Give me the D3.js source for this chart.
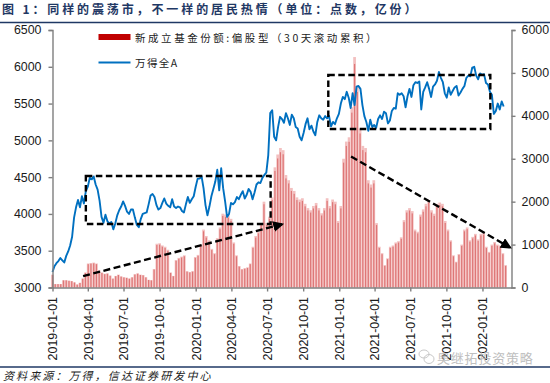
<!DOCTYPE html>
<html>
<head>
<meta charset="utf-8">
<script src="https://cdn.jsdelivr.net/npm/d3@7"></script>
<style>
    body { margin: 0; background: #fff; }
    svg { display: block; }
    .cjk { font-family: "Noto Sans CJK SC", sans-serif; }
    .tick text { font-family: "Liberation Sans", sans-serif; font-size: 12.4px; fill: #1a1a1a; }
    .axis path, .axis line { stroke: #7f7f7f; stroke-width: 1.4; }
</style>
</head>
<body>
<svg id="chart" width="550" height="383"></svg>
<script>
const titleText = "图 1：同样的震荡市，不一样的居民热情（单位：点数，亿份）";
const sourceText = "资料来源：万得，信达证券研发中心";
const barName = "新成立基金份额:偏股型（30天滚动累积）";
const lineName = "万得全A";
const markText = "奥继拓投资策略";

const leftTicks = [3000, 3500, 4000, 4500, 5000, 5500, 6000, 6500];
const rightTicks = [0, 1000, 2000, 3000, 4000, 5000, 6000];
const dateTicks = ["2019-01-01", "2019-04-01", "2019-07-01", "2019-10-01", "2020-01-01", "2020-04-01",
    "2020-07-01", "2020-10-01", "2021-01-01", "2021-04-01", "2021-07-01", "2021-10-01", "2022-01-01"];

// fund shares, one reading per week from 2019-01-01
const barStep = 7;
const barValues = [300, 80, 80, 80, 170, 170, 160, 150, 120, 70, 110, 210, 350, 560, 570, 580, 560, 400, 350, 320,
    330, 280, 210, 270, 300, 260, 240, 230, 210, 240, 310, 330, 300, 290, 240, 180, 170, 430, 1020, 1030,
    980, 950, 880, 350, 270, 640, 690, 720, 750, 380, 360, 380, 710, 760, 1000, 1350, 1200, 1100, 900, 800,
    1150, 1400, 1720, 1700, 1680, 1600, 1050, 750, 500, 430, 450, 470, 560, 950, 1200, 1300, 1500, 2000, 1500, 1650,
    2100, 2800, 3100, 3250, 3200, 2620, 2500, 2320, 2250, 2100, 2050, 2080, 1950, 1850, 1800, 1900, 1970, 1850, 1730, 1850,
    2080, 1900, 2050, 2000, 1550, 1900, 3000, 3400, 3500, 4200, 5370, 4700, 3700, 3300, 3250, 2500, 2400, 2500, 1500, 950,
    800, 520, 680, 950, 980, 1050, 1080, 1170, 1570, 1800, 1850, 1780, 1350, 1300, 1700, 1820, 1950, 2040, 1800, 1720,
    1950, 1980, 1950, 1550, 1350, 1100, 750, 600, 780, 1000, 1350, 1400, 1100, 1180, 1250, 1120, 1250, 1270, 950, 830,
    1000, 1060, 1000, 980, 800, 520];

// Wind All A index, one reading every 5 days from 2019-01-01
const lineStep = 5;
const lineValues = [3210, 3290, 3330, 3360, 3400, 3370, 3340, 3430, 3490, 3570, 3690, 3950, 4090, 4190, 4090, 4240, 4140, 4310, 4370, 4490,
    4470, 4510, 4400, 4330, 4180, 3960, 3880, 3990, 3900, 3870, 3890, 3790, 3870, 3980, 4050, 4100, 4170, 4110, 4030, 4000,
    4060, 4060, 3950, 3850, 3820, 3930, 4000, 4010, 4020, 4130, 4250, 4270, 4230, 4120, 4060, 4080, 4150, 4210, 4140, 4110,
    4090, 4200, 4100, 4080, 4100, 4090, 4040, 4020, 4130, 4230, 4150, 4200, 4240, 4370, 4480, 4480, 4510, 4350, 4120, 3980,
    4100, 4240, 4340, 4440, 4600, 4320, 4620, 4350, 4170, 3960, 4000, 4150, 4130, 4160, 4230, 4200, 4260, 4310, 4210, 4260,
    4340, 4300, 4200, 4290, 4400, 4430, 4420, 4490, 4530, 4560, 4800, 5370, 5410, 5050, 5000, 5180, 5320, 5290, 5240, 5370,
    5300, 5210, 5350, 5300, 5180, 5160, 5050, 5000, 5100, 5220, 5300, 5150, 5200, 5120, 5070, 5250, 5340, 5300, 5280, 5330,
    5300, 5330, 5190, 5250, 5220, 5300, 5360, 5500, 5590, 5560, 5660, 5580, 5440, 5640, 5480, 5730, 5740, 5700, 5480, 5330,
    5250, 5130, 5280, 5180, 5210, 5170, 5290, 5340, 5290, 5390, 5370, 5230, 5270, 5400, 5440, 5430, 5640, 5620, 5640, 5600,
    5450, 5600, 5700, 5590, 5750, 5790, 5780, 5800, 5420, 5660, 5720, 5790, 5700, 5590, 5730, 5760, 5810, 5930, 5850, 5790,
    5640, 5580, 5720, 5620, 5670, 5720, 5740, 5610, 5650, 5700, 5740, 5850, 5880, 5870, 5990, 6000, 5880, 5830, 5910, 5890,
    5900, 5780, 5760, 5660, 5620, 5360, 5400, 5500, 5420, 5530, 5460];

// annotations, in axis units (date, left axis value)
const boxes = [
    ["2019-03-27", "2020-07-10", 4515, 3863],
    ["2020-12-04", "2022-01-21", 5888, 5155]
];
const arrows = [
    ["2019-03-20", 3155, "2020-08-08", 3860],
    ["2021-01-31", 4780, "2022-03-12", 3545]
];

const parseDate = d3.utcParse("%Y-%m-%d");
const start = parseDate("2019-01-01");
const fmt = d3.utcFormat("%Y-%m-%d");

const margin = { top: 30, right: 39, bottom: 95.5, left: 52.5 };
const svgWidth = 550, svgHeight = 383;
const width = svgWidth - margin.left - margin.right;
const height = svgHeight - margin.top - margin.bottom;

const svg = d3.select("#chart");

// title and rules
svg.append("text").attr("class", "cjk").attr("x", 2).attr("y", 14)
    .attr("font-size", 12).attr("font-weight", 700).attr("fill", "#1f3864")
    .attr("letter-spacing", 2.88).text(titleText);
svg.append("line").attr("x1", 0).attr("x2", svgWidth).attr("y1", 22.5).attr("y2", 22.5)
    .attr("stroke", "#1f3864").attr("stroke-width", 1.5);
svg.append("line").attr("x1", 0).attr("x2", svgWidth).attr("y1", 367).attr("y2", 367)
    .attr("stroke", "#1f3864").attr("stroke-width", 1.5);
svg.append("text").attr("class", "cjk").attr("x", 3).attr("y", 380)
    .attr("font-size", 11).attr("font-style", "italic").attr("fill", "#222")
    .attr("letter-spacing", 2.1).text(sourceText);

const g = svg.append("g").attr("transform", "translate(" + margin.left + "," + margin.top + ")");

const x = d3.scaleUtc().domain([start, d3.utcDay.offset(start, 1170)]).range([0, width + 0.5]);
const yLeft = d3.scaleLinear().domain([3000, 6500]).range([height, 0]);
const yRight = d3.scaleLinear().domain([0, 6000]).range([height, 0]);

const barDate = (d, i) => d3.utcDay.offset(start, i * barStep);
const barWidth = x(d3.utcDay.offset(start, barStep)) - x(start);

// pale body of the bars, darker stripe in the middle of each
g.append("g").selectAll("rect").data(barValues).enter().append("rect")
    .attr("x", (d, i) => x(barDate(d, i)) - barWidth / 2)
    .attr("width", barWidth)
    .attr("y", d => yRight(d))
    .attr("height", d => height - yRight(d))
    .attr("fill", "#f3c0c0");
g.append("g").selectAll("rect").data(barValues).enter().append("rect")
    .attr("x", (d, i) => x(barDate(d, i)) - 0.6)
    .attr("width", 1.2)
    .attr("y", d => yRight(d * 0.97))
    .attr("height", d => height - yRight(d * 0.97))
    .attr("fill", "#de7676");

const line = d3.line()
    .x((d, i) => x(d3.utcDay.offset(start, i * lineStep)))
    .y(d => yLeft(d));
g.append("path").datum(lineValues).attr("d", line)
    .attr("fill", "none").attr("stroke", "#0070c0").attr("stroke-width", 1.9).attr("stroke-linejoin", "round");

// axes
const leftAxis = g.append("g").attr("class", "axis")
    .call(d3.axisLeft(yLeft).tickValues(leftTicks).tickSize(4).tickFormat(d3.format("d")));
leftAxis.selectAll("text").attr("x", -11);
g.append("g").attr("class", "axis").attr("transform", "translate(" + (width + 0.5) + ",0)")
    .call(d3.axisRight(yRight).tickValues(rightTicks).tickSize(4).tickFormat(d3.format("d")))
    .selectAll("text").attr("x", 10);
g.append("g").attr("class", "axis").attr("transform", "translate(0," + height + ")")
    .call(d3.axisBottom(x).tickValues(dateTicks.map(parseDate)).tickFormat(fmt).tickSize(4).tickSizeOuter(0))
    .selectAll("text")
    .attr("transform", "rotate(-90)")
    .attr("text-anchor", "end")
    .attr("x", -9.5).attr("y", 0).attr("dy", "0.35em");

// dashed annotations
const boxG = g.append("g").attr("fill", "none").attr("stroke", "#000").attr("stroke-width", 2.4).attr("stroke-dasharray", "6.5 3.5");
boxes.forEach(b => {
    boxG.append("rect")
        .attr("x", x(parseDate(b[0])))
        .attr("y", yLeft(b[2]))
        .attr("width", x(parseDate(b[1])) - x(parseDate(b[0])))
        .attr("height", yLeft(b[3]) - yLeft(b[2]));
});
svg.append("defs").append("marker").attr("id", "head")
    .attr("viewBox", "0 0 10 10").attr("refX", 8).attr("refY", 5)
    .attr("markerWidth", 11).attr("markerHeight", 11).attr("markerUnits", "userSpaceOnUse")
    .attr("orient", "auto")
    .append("path").attr("d", "M0,0L10,5L0,10z").attr("fill", "#000");
arrows.forEach(a => {
    g.append("line")
        .attr("x1", x(parseDate(a[0]))).attr("y1", yLeft(a[1]))
        .attr("x2", x(parseDate(a[2]))).attr("y2", yLeft(a[3]))
        .attr("stroke", "#000").attr("stroke-width", 2.4).attr("stroke-dasharray", "7 3.5")
        .attr("marker-end", "url(#head)");
});

// legend
svg.append("rect").attr("x", 98.5).attr("y", 34).attr("width", 32).attr("height", 6).attr("fill", "#c00000");
svg.append("line").attr("x1", 98.5).attr("x2", 130.5).attr("y1", 62.5).attr("y2", 62.5)
    .attr("stroke", "#0070c0").attr("stroke-width", 1.8);
svg.append("text").attr("class", "cjk").attr("x", 135).attr("y", 41.5)
    .attr("font-size", 10.5).attr("fill", "#222").attr("letter-spacing", 2.55).text(barName);
svg.append("text").attr("class", "cjk").attr("x", 135).attr("y", 66.5)
    .attr("font-size", 10.5).attr("fill", "#222").attr("letter-spacing", 1.4).text(lineName);

// watermark
const wm = svg.append("g").attr("fill", "none").attr("stroke", "#c8c8c8").attr("stroke-width", 1);
wm.append("ellipse").attr("cx", 424).attr("cy", 354).attr("rx", 5).attr("ry", 4);
wm.append("ellipse").attr("cx", 429).attr("cy", 359).attr("rx", 5).attr("ry", 4.5);
svg.append("text").attr("class", "cjk").attr("x", 437).attr("y", 363)
    .attr("font-size", 13).attr("fill", "#b4b4b4").attr("opacity", 0.85).attr("letter-spacing", 0.8).text(markText);
</script>
</body>
</html>
